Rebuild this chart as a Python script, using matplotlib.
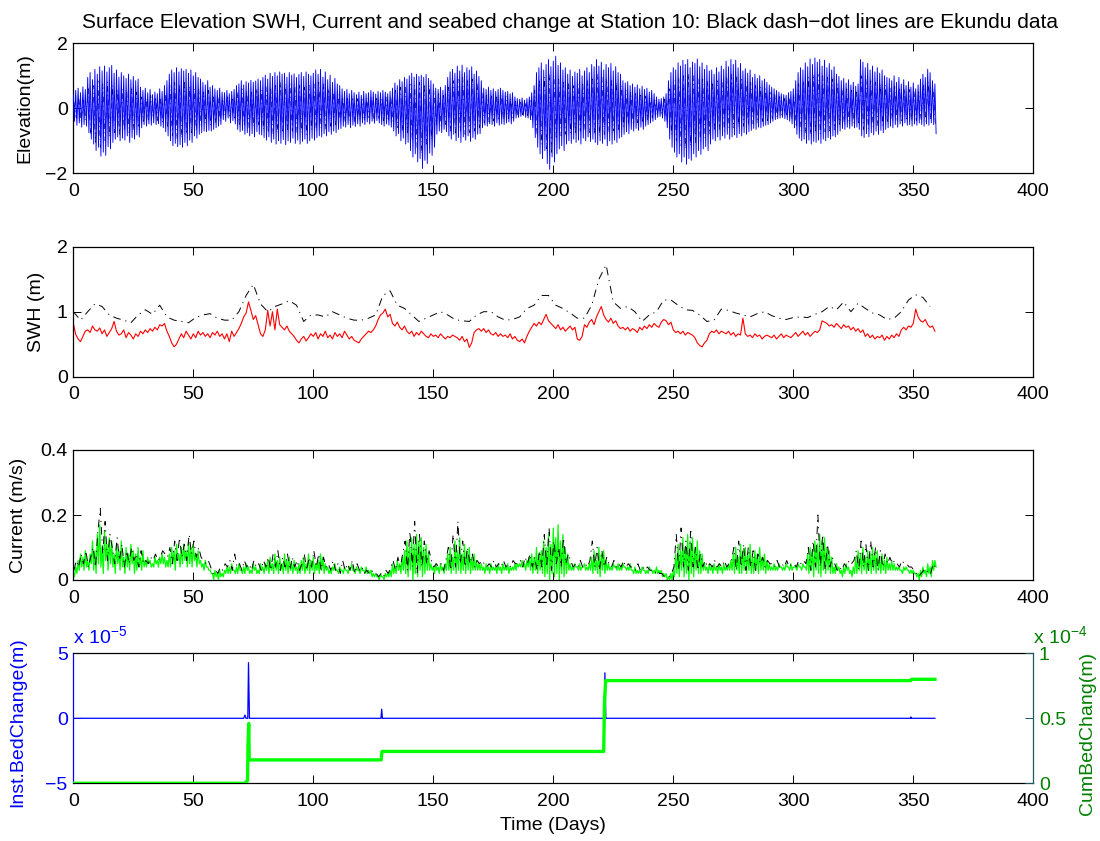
import numpy as np
import matplotlib
matplotlib.use("Agg")
import matplotlib.pyplot as plt

plt.rcParams['font.family'] = ['Liberation Sans', 'DejaVu Sans']
plt.rcParams['mathtext.fontset'] = 'custom'
plt.rcParams['mathtext.rm'] = 'Liberation Sans'
plt.rcParams['mathtext.it'] = 'Liberation Sans:italic'

# ---------------- data ----------------
# Model surface elevation: daily high and low water (cm)
ELEV_HIGH_CM = [
    40, 55, 62, 48, 66, 58,
    95, 110, 88, 120, 105, 128, 115, 130, 112, 125,
    132, 108, 118, 96, 110, 100, 92, 105, 88, 98, 85, 90,
    65, 55, 62, 48, 58, 42, 50, 45, 60, 52, 70, 85,
    105, 118, 110, 125, 112, 122, 115, 120, 108, 118, 100, 110, 95, 90,
    80, 72, 85, 65, 70, 60, 55, 62,
    50, 48, 55, 45, 52, 58,
    70, 75, 85, 72, 82, 78, 86, 80, 84, 90, 85,
    95, 102, 90, 108, 98, 110, 100, 112, 105, 108, 96, 110, 102, 106, 95, 104, 110, 98, 112, 105, 100, 108,
    118, 105, 120, 96, 112, 88, 102, 80, 92, 75, 70,
    60, 52, 58, 45, 55, 48, 42, 50, 40, 52, 45, 48, 55, 50, 44, 52, 48, 55, 50, 45, 52,
    62, 78, 70, 88, 82, 95, 90,
    100, 108, 96, 105, 98, 102, 95, 104, 92, 85, 75,
    62, 58, 65, 55, 70,
    95, 112, 120, 108, 130, 115, 133, 110, 125, 118, 128, 105, 115, 98,
    85, 62, 58, 65, 55, 60, 52, 58, 62, 55, 50, 52, 45, 48,
    35, 30, 28, 32, 25, 30, 35, 48, 70,
    110, 125, 140, 118, 135, 150, 128, 145, 160, 132, 140, 118, 125,
    105, 118, 98, 112, 108, 120, 100, 115, 125, 110, 135, 128,
    150, 130, 142, 118, 135, 125, 138, 115, 128, 110, 105,
    85, 78, 82, 70, 75, 65, 72, 60, 68, 58, 62, 50, 55, 45,
    35, 28, 30, 35, 45,
    85, 110, 125, 118, 140, 130, 148, 135, 150, 125, 142, 138, 152, 128, 140, 120, 132, 115,
    118, 105, 125, 112, 130, 120, 145, 128, 150, 135, 148, 125, 138, 115, 122, 108,
    118, 95, 105, 92, 100, 85, 90, 80,
    72, 65, 60, 55, 50, 45, 42, 40, 48, 52, 60,
    85, 110, 125, 118, 140, 128, 152, 135, 155, 142, 150, 130, 148, 125, 138, 118, 128, 105,
    98, 85, 92, 78, 88, 72, 80, 68, 75,
    150, 142, 125, 138, 118, 130, 112, 125, 108, 118, 100, 95,
    92, 85, 100, 80, 95, 75, 88, 70, 82, 65, 78, 60, 72, 90, 105, 95, 120, 110, 85, 75,
]
ELEV_LOW_CM = [
    40, 52, 45, 58, 50, 55,
    75, 95, 110, 130, 120, 147, 135, 145, 118, 125,
    105, 95, 88, 100, 92, 98, 85, 105, 90, 95, 82, 88,
    60, 50, 55, 48, 52, 45, 50, 48, 55, 60, 72, 85,
    100, 115, 108, 118, 112, 120, 105, 115, 98, 105, 85, 92, 80, 75,
    70, 72, 68, 70, 65, 60, 55, 50,
    35, 40, 30, 45, 38, 48,
    65, 72, 68, 80, 75, 85, 78, 88, 72, 80, 82,
    90, 98, 88, 105, 95, 110, 100, 108, 96, 112, 100, 105, 92, 108, 98, 110, 102, 95, 108, 100, 92, 98,
    90, 85, 88, 78, 85, 72, 80, 70, 75, 65, 62,
    55, 58, 50, 60, 52, 56, 48, 55, 45, 50, 42, 48, 40, 46, 38, 45, 50, 55, 48, 52, 58,
    70, 85, 78, 100, 92, 110, 105,
    130, 150, 140, 165, 155, 185, 160, 170, 138, 145, 120,
    80, 70, 75, 65, 72,
    85, 95, 80, 100, 90, 105, 88, 98, 85, 102, 90, 95, 80, 78,
    60, 52, 55, 48, 50, 55, 45, 52, 48, 50, 45, 42, 48, 40,
    30, 28, 25, 22, 28, 30, 35, 60, 90,
    120, 140, 155, 130, 170, 188, 150, 165, 140, 125, 115, 130, 110,
    100, 108, 95, 105, 98, 110, 92, 100, 88, 102, 95, 105,
    112, 100, 108, 95, 115, 100, 110, 98, 105, 92, 88,
    80, 72, 78, 65, 70, 62, 68, 58, 65, 55, 50, 45, 40, 35,
    28, 25, 30, 40, 60,
    95, 120, 135, 150, 140, 165, 150, 172, 155, 160, 140, 150, 130, 142, 125, 118, 130, 110,
    95, 100, 88, 98, 85, 92, 80, 95, 88, 82, 90, 78, 85, 75, 80, 72,
    68, 62, 65, 58, 60, 55, 52, 50,
    45, 40, 35, 32, 30, 28, 32, 35, 40, 48, 60,
    80, 92, 100, 95, 108, 98, 110, 102, 105, 98, 108, 95, 100, 90, 95, 85, 88, 80,
    70, 62, 65, 58, 62, 55, 60, 58, 65,
    85, 90, 78, 88, 75, 82, 70, 80, 68, 75, 65, 60,
    55, 60, 50, 58, 48, 55, 45, 52, 50, 55, 48, 52, 45, 50, 55, 48, 52, 45, 50, 78,
]
# Ekundu surface elevation (cm), one value per day
EKUNDU_ELEV_CM = [
    20, -30, 35, -40, 25, -35,
    60, -80, 70, -110, 85, -120, 75, -100, 80, -90,
    70, -75, 60, -80, 65, -70, 55, -75, 60, -65, 50, -60,
    35, -40, 30, -35, 40, -30, 35, -38, 30, -42, 45, -55,
    70, -85, 80, -95, 75, -90, 85, -80, 70, -75, 65, -70, 60, -55,
    50, -45, 55, -50, 40, -45, 35, -40,
    30, -25, 35, -30, 28, -35,
    50, -55, 60, -50, 55, -60, 50, -55, 60, -50, 55,
    -65, 70, -75, 65, -80, 70, -75, 80, -70, 75, -65, 80, -70, 75, -80, 70, -75, 65, -80, 70, -65, 75,
    -70, 80, -60, 75, -65, 60, -55, 50, -50, 45, -40,
    35, -40, 30, -38, 35, -42, 30, -35, 28, -38, 32, -30, 35, -40, 30, -35, 32, -38, 35, -40, 38,
    -45, 55, -60, 65, -70, 70, -80,
    75, -100, 70, -120, 80, -140, 75, -110, 70, -95, 55,
    -50, 45, -55, 40, -50,
    65, -70, 85, -75, 90, -70, 95, -80, 85, -75, 90, -70, 80, -60,
    50, -45, 40, -42, 38, -40, 35, -38, 40, -35, 38, -32, 30, -30,
    22, -20, 18, -20, 15, -22, 25, -40, 55,
    -85, 90, -110, 95, -125, 110, -140, 100, -95, 90, -85, 80, -80,
    75, -75, 70, -80, 75, -70, 80, -72, 85, -75, 90, -80,
    105, -85, 95, -80, 90, -75, 85, -70, 80, -65, 70,
    -55, 55, -50, 50, -48, 45, -45, 40, -40, 38, -35, 32, -30, 28,
    -20, 22, -22, 28, -40,
    60, -80, 85, -100, 95, -115, 100, -125, 105, -115, 100, -105, 95, -100, 90, -90, 85, -80,
    80, -70, 85, -65, 90, -70, 100, -65, 105, -60, 100, -58, 95, -55, 85, -52,
    80, -48, 70, -45, 65, -40, 60, -38,
    50, -32, 42, -28, 36, -25, 30, -25, 32, -35, 42,
    -58, 75, -70, 85, -78, 95, -80, 105, -75, 105, -78, 100, -72, 95, -70, 90, -65, 80,
    -55, 65, -50, 60, -45, 55, -45, 50, -50,
    100, -65, 90, -62, 85, -58, 80, -55, 75, -52, 70, -45,
    62, -40, 68, -42, 65, -38, 60, -38, 58, -40, 55, -38, 50, -36, 70, -40, 80, -35, 60, -55,
]

# Model significant wave height (cm), one value per day
SWH_MODEL_CM = [
    82, 65, 58, 54, 62, 70, 72, 68, 78, 72,
    70, 75, 66, 72, 62, 68, 74, 85, 70, 64,
    66, 72, 60, 68, 64, 58, 66, 62, 70, 66,
    72, 68, 74, 70, 76, 72, 80, 78, 82, 70,
    62, 52, 46, 50, 58, 66, 60, 70, 64, 58,
    66, 60, 70, 64, 68, 62, 66, 60, 68, 64,
    70, 62, 66, 58, 66, 54, 70, 62, 68, 74,
    82, 92, 98, 115, 102, 88, 94, 80, 66, 62,
    72, 102, 78, 100, 72, 104, 80, 76, 72, 78,
    70, 66, 62, 56, 52, 58, 62, 55, 60, 66,
    62, 68, 58, 66, 62, 70, 60, 64, 58, 68,
    62, 66, 60, 70, 64, 58, 62, 56, 54, 52,
    58, 62, 66, 70, 68, 72, 78, 88, 95, 98,
    104, 92, 96, 82, 78, 84, 76, 72, 78, 70,
    66, 70, 62, 68, 64, 70, 66, 62, 60, 66,
    62, 64, 60, 66, 62, 58, 62, 60, 64, 62,
    60, 56, 62, 54, 58, 45, 52, 68, 72, 74,
    70, 74, 68, 72, 66, 64, 68, 62, 66, 62,
    64, 60, 66, 58, 62, 56, 54, 58, 52, 62,
    70, 76, 82, 78, 84, 80, 88, 96, 86, 82,
    78, 74, 80, 72, 76, 70, 74, 78, 72, 76,
    58, 56, 62, 80, 76, 84, 88, 80, 92, 100,
    108, 95, 88, 84, 90, 82, 86, 78, 74, 76,
    72, 76, 70, 74, 72, 68, 76, 72, 78, 74,
    80, 76, 82, 78, 76, 84, 88, 86, 80, 84,
    72, 68, 70, 66, 70, 64, 68, 66, 64, 60,
    52, 48, 46, 52, 56, 66, 70, 68, 72, 66,
    70, 68, 66, 70, 64, 68, 62, 66, 64, 90,
    66, 62, 64, 60, 66, 62, 64, 58, 62, 64,
    62, 60, 64, 58, 62, 66, 60, 64, 62, 60,
    64, 68, 62, 66, 70, 64, 68, 62, 66, 70,
    68, 72, 86, 84, 82, 78, 80, 76, 82, 78,
    74, 80, 76, 78, 72, 76, 70, 74, 68, 72,
    62, 66, 60, 64, 58, 62, 60, 64, 56, 62,
    58, 64, 60, 66, 62, 72, 76, 72, 78, 76,
    82, 104, 92, 86, 84, 88, 80, 76, 78, 70,
]
# Ekundu significant wave height (cm), every 3 days
SWH_EKUNDU_CM = [
    100, 87, 100, 112, 108, 95, 90, 87, 83, 95,
    103, 96, 110, 92, 87, 85, 83, 91, 95, 97,
    90, 87, 87, 100, 125, 142, 112, 100, 108, 112,
    117, 110, 85, 95, 95, 92, 100, 95, 90, 87,
    87, 90, 95, 125, 132, 110, 105, 95, 85, 90,
    95, 100, 95, 88, 86, 85, 95, 100, 100, 92,
    87, 88, 92, 105, 110, 125, 125, 110, 105, 98,
    90, 90, 110, 150, 172, 115, 105, 108, 100, 85,
    95, 100, 118, 118, 110, 103, 102, 95, 85, 87,
    104, 102, 98, 95, 92, 97, 100, 94, 90, 88,
    91, 92, 91, 96, 100, 108, 103, 115, 100, 113,
    105, 98, 95, 88, 90, 100, 118, 126, 122, 108,
]

# Model depth-averaged current: daily peak and trough (cm/s)
CUR_HIGH_CMS = [
    2, 4, 6, 8, 7, 9, 6, 8,
    12, 9, 14, 17, 10, 15, 11, 13,
    12, 8, 11, 9, 12, 7, 10, 8, 11, 9, 8, 10, 7, 9,
    6, 7, 6, 5, 7, 6, 7, 8, 7, 6,
    8, 10, 9, 11, 8, 10, 11, 9, 12, 10, 11, 8, 9,
    6, 5, 6, 4, 3,
    2, 3, 2, 3, 2, 3, 4,
    4, 5, 3, 4, 5, 3, 4, 5, 4, 3, 5, 4, 3, 5, 4, 5,
    6, 7, 5, 8, 6, 7, 5, 8, 6, 7, 5, 6, 4, 5, 6,
    7, 5, 8, 6, 7, 5, 6, 8, 7, 5,
    4, 3, 4, 5, 3, 4, 3, 4, 3, 4, 5, 3, 4, 3, 4, 3, 4, 3, 3, 2,
    2, 1, 2, 1, 2, 2, 3,
    5, 4, 6, 5, 7,
    9, 12, 10, 13, 11, 14, 12, 13, 10, 11, 8,
    5, 4, 5, 4, 5, 4, 5,
    8, 10, 7, 12, 9, 13, 8, 11, 9, 10, 7, 8, 6, 5, 5,
    4, 5, 4, 5, 4, 4, 5, 4, 5, 4, 5, 4, 4, 5, 5,
    5, 6, 5, 6, 7, 8, 7, 10, 8, 9,
    12, 10, 14, 11, 16, 13, 17, 12, 14, 10, 8,
    5, 4, 5, 4, 5, 4, 5, 4, 5,
    7, 9, 6, 10, 8, 9, 6,
    5, 4, 5, 4, 5, 4, 5, 4, 4, 5,
    3, 4, 3, 3, 4, 3, 3, 4, 3, 3, 4, 3, 3, 2, 2,
    1, 2, 3,
    8, 11, 9, 13, 10, 14, 12, 13, 10, 12, 9, 8,
    5, 4, 5, 4, 5, 4, 5, 4, 5, 4, 5, 6,
    8, 10, 7, 11, 9, 10, 8, 11, 7, 9, 8, 10, 7, 8, 6, 5,
    4, 5, 4, 5, 4, 4, 5, 4, 5, 4, 4, 5, 4, 5, 4,
    8, 10, 9, 12, 11, 14, 12, 13, 10, 9, 7,
    4, 5, 4, 3, 4, 5, 4, 3, 4,
    7, 9, 8, 10, 7, 9, 8, 10, 8, 9, 7, 8, 6, 7, 5, 6, 5,
    4, 4, 3, 4, 4, 3, 3, 3, 2, 2,
    3, 4, 3, 5, 4, 6, 6,
]
CUR_LOW_CMS = [
    1, 2, 3, 4, 3, 4, 3, 5,
    3, 2, 5, 4, 2, 6, 3, 5,
    4, 2, 5, 3, 4, 2, 4, 3, 5, 2, 3, 4, 3, 4,
    4, 5, 4, 4, 5, 4, 5, 5, 4, 4,
    4, 5, 3, 6, 4, 5, 6, 4, 5, 4, 6, 4, 5,
    4, 3, 4, 3, 2,
    0, 1, 0, 1, 1, 2, 2,
    2, 3, 2, 2, 3, 2, 2, 3, 2, 2, 3, 2, 2, 3, 2, 3,
    2, 3, 2, 3, 2, 3, 2, 3, 2, 3, 2, 3, 2, 2, 3,
    2, 3, 2, 3, 2, 3, 2, 3, 2, 3,
    2, 2, 3, 3, 2, 3, 2, 3, 2, 3, 3, 2, 3, 2, 3, 2, 2, 2, 1, 1,
    1, 0, 1, 0, 1, 1, 1,
    2, 2, 3, 2, 3,
    2, 1, 3, 0, 2, 1, 3, 1, 2, 3, 3,
    3, 2, 3, 2, 3, 2, 3,
    3, 2, 3, 2, 3, 2, 3, 2, 3, 2, 3, 3, 3, 3, 3,
    2, 3, 2, 3, 3, 2, 3, 2, 3, 3, 2, 3, 3, 3, 4,
    4, 4, 3, 4, 3, 2, 3, 2, 3, 2,
    1, 2, 0, 2, 1, 2, 0, 2, 1, 2, 3,
    3, 3, 4, 3, 3, 4, 3, 3, 3,
    2, 3, 2, 1, 3, 2, 3,
    3, 3, 4, 3, 3, 3, 4, 3, 3, 3,
    2, 2, 2, 2, 3, 2, 2, 3, 2, 2, 2, 2, 1, 1, 0,
    0, 0, 1,
    2, 1, 3, 1, 2, 0, 2, 1, 3, 2, 2, 3,
    3, 2, 3, 2, 3, 2, 3, 2, 3, 3, 3, 3,
    2, 3, 2, 2, 3, 2, 3, 2, 2, 3, 2, 3, 3, 2, 3, 3,
    3, 3, 3, 4, 3, 3, 4, 3, 3, 4, 3, 4, 3, 4, 3,
    2, 3, 1, 3, 2, 1, 3, 2, 3, 2, 2,
    2, 3, 2, 1, 2, 3, 2, 1, 2,
    2, 3, 2, 3, 2, 3, 2, 3, 2, 3, 2, 3, 2, 3, 3, 3, 3,
    3, 3, 2, 3, 3, 2, 2, 2, 1, 0,
    1, 2, 1, 2, 1, 3, 4,
]
# Ekundu current (cm/s), one value per day
CUR_EKUNDU_CMS = [
    3, 6, 4, 8, 5, 9, 4, 7,
    10, 4, 15, 22, 8, 18, 6, 14,
    10, 5, 13, 6, 11, 4, 9, 5, 10, 6, 8, 4, 9, 5,
    6, 5, 7, 6, 8, 6, 7, 9, 8, 7,
    10, 5, 12, 6, 13, 7, 11, 6, 14, 8, 12, 7, 10,
    7, 6, 5, 6, 4,
    2, 3, 2, 4, 3, 5, 4,
    6, 3, 8, 4, 5, 3, 6, 4, 5, 3, 6, 4, 5, 3, 6, 4,
    7, 3, 8, 4, 9, 3, 7, 4, 8, 3, 7, 4, 6, 3, 5,
    8, 3, 7, 4, 9, 4, 8, 3, 7, 4,
    5, 3, 6, 3, 5, 2, 6, 3, 5, 3, 6, 2, 5, 3, 4, 2, 3, 2, 3, 2,
    2, 1, 2, 1, 3, 2, 4,
    6, 3, 7, 4, 8,
    12, 3, 15, 4, 18, 2, 14, 4, 12, 5, 9,
    6, 4, 5, 4, 5, 3, 6,
    10, 3, 14, 4, 18, 5, 12, 4, 10, 5, 8, 4, 6, 5, 6,
    5, 4, 5, 4, 6, 4, 5, 4, 6, 4, 5, 4, 6, 5, 5,
    6, 4, 7, 5, 8, 4, 7, 3, 9, 4,
    14, 4, 16, 3, 12, 5, 10, 4, 13, 5, 8,
    6, 4, 5, 4, 6, 4, 5, 4, 6,
    12, 4, 10, 3, 9, 4, 7,
    5, 4, 6, 4, 5, 4, 6, 4, 5, 4,
    4, 3, 5, 3, 4, 3, 4, 3, 3, 2, 3, 2, 2, 1, 1,
    1, 2, 4,
    14, 3, 16, 4, 12, 3, 15, 4, 10, 3, 8, 4,
    6, 4, 5, 4, 6, 4, 5, 4, 6, 4, 5, 6,
    10, 3, 12, 4, 11, 3, 10, 4, 9, 3, 8, 5, 7, 4, 6, 5,
    5, 4, 6, 4, 5, 4, 6, 4, 5, 5, 4, 6, 5, 6, 5,
    10, 3, 12, 4, 20, 4, 14, 3, 11, 4, 7,
    5, 3, 4, 3, 5, 4, 6, 5, 6,
    9, 3, 12, 4, 11, 3, 12, 4, 10, 3, 9, 4, 8, 5, 7, 5, 6,
    5, 4, 6, 5, 5, 4, 4, 3, 2, 1,
    2, 3, 2, 3, 2, 5, 4,
]

# Instantaneous bed change (m) and cumulative bed change (m)
INST_DAY = [0, 71.0, 71.5, 72.0, 72.7, 73.0, 73.4, 128.2, 128.5, 128.8,
            221.2, 221.5, 221.9, 348.8, 349.0, 349.2, 359.0]
INST_BED = [0, 0, 0.25e-5, 0, 0, 4.28e-5, 0, 0, 0.7e-5, 0,
            0, 3.5e-5, 0, 0, 0.1e-5, 0, 0]
CUM_DAY = [0, 71.6, 72.0, 72.6, 72.8, 73.1, 73.3, 128.3, 128.6,
           221.0, 221.3, 221.8, 348.8, 349.2, 359.0]
CUM_BED = [0, 0, 0.01e-4, 0.02e-4, 0.30e-4, 0.46e-4, 0.18e-4, 0.18e-4, 0.245e-4,
           0.245e-4, 0.60e-4, 0.79e-4, 0.79e-4, 0.80e-4, 0.80e-4]

X_TICKS = [0, 50, 100, 150, 200, 250, 300, 350, 400]


def zigzag(high, low):
    """Interleave daily highs (at day d) and lows (at day d + 0.5)."""
    n = min(len(high), len(low))
    t = np.empty(2 * n)
    v = np.empty(2 * n)
    t[0::2] = np.arange(n)
    t[1::2] = np.arange(n) + 0.5
    v[0::2] = high[:n]
    v[1::2] = low[:n]
    return t, v


# ---------------- figure ----------------
fig = plt.figure(figsize=(11, 8.41), dpi=100)
W, H = 1100.0, 841.0
AX_L, AX_W, AX_H = 73.3, 960.0, 130.0
left = AX_L / W
width = AX_W / W
height = AX_H / H
tops = [43.3, 246.7, 450.0, 653.3]

TICK_FS = 14
LABEL_FS = 14
DASHDOT = (0, (8, 5, 1.2, 5))


def px_x(px):
    """Horizontal pixel position -> axes fraction."""
    return (px - AX_L) / AX_W


def style(ax, ylim, yticks, yticklabels):
    ax.set_xlim(0, 400)
    ax.set_xticks(X_TICKS)
    ax.set_xticklabels([str(x) for x in X_TICKS])
    ax.set_ylim(*ylim)
    ax.set_yticks(yticks)
    ax.set_yticklabels(yticklabels)
    ax.tick_params(direction='in', top=True, right=True, length=6, width=0.7,
                   labelsize=TICK_FS, pad=4)
    ax.tick_params(axis='x', pad=7)
    for s in ax.spines.values():
        s.set_linewidth(0.9)


axes = []
for tp in tops:
    b = 1 - (tp + AX_H) / H
    axes.append(fig.add_axes([left, b, width, height]))
ax1, ax2, ax3, ax4 = axes

# Panel 1: surface elevation
t_e, v_e = zigzag(np.array(ELEV_HIGH_CM) / 100.0, -np.array(ELEV_LOW_CM) / 100.0)
ek_e = np.array(EKUNDU_ELEV_CM) / 100.0
ax1.plot(np.arange(len(ek_e)) + 0.25, ek_e, color='k', lw=0.5, linestyle=DASHDOT, zorder=2)
ax1.plot(t_e, v_e, color='#0000ff', lw=0.65, zorder=3)
style(ax1, (-2, 2), [-2, 0, 2], ['\u22122', '0', '2'])
ax1.set_ylabel('Elevation(m)', fontsize=LABEL_FS)
ax1.yaxis.set_label_coords(px_x(33), 0.5)
ax1.set_title('Surface Elevation SWH, Current and seabed change at Station 10: '
              'Black dash\u2212dot lines are Ekundu data', fontsize=15, pad=11,
              x=px_x(569.5))

# Panel 2: significant wave height
swh = np.array(SWH_MODEL_CM) / 100.0
ax2.plot(np.arange(len(swh)), swh, color='#ff0000', lw=0.8, zorder=2)
swh_ek = np.array(SWH_EKUNDU_CM) / 100.0
ax2.plot(np.arange(len(swh_ek)) * 3, swh_ek, color='k', lw=0.7, linestyle=DASHDOT, zorder=3)
style(ax2, (0, 2), [0, 1, 2], ['0', '1', '2'])
ax2.set_ylabel('SWH (m)', fontsize=LABEL_FS)
ax2.yaxis.set_label_coords(px_x(45), 0.5)

# Panel 3: current
t_c, v_c = zigzag(np.array(CUR_HIGH_CMS) / 100.0, np.array(CUR_LOW_CMS) / 100.0)
ax3.plot(t_c, v_c, color='#00ff00', lw=0.9, zorder=2)
cur_ek = np.array(CUR_EKUNDU_CMS) / 100.0
ax3.plot(np.arange(len(cur_ek)) + 0.25, cur_ek, color='k', lw=0.7, linestyle=DASHDOT, zorder=3)
style(ax3, (0, 0.4), [0, 0.2, 0.4], ['0', '0.2', '0.4'])
ax3.set_ylabel('Current (m/s)', fontsize=LABEL_FS)
ax3.yaxis.set_label_coords(px_x(27), 0.5)

# Panel 4: bed change with two y axes
ax4.plot(INST_DAY, INST_BED, color='#0000ff', lw=0.9)
style(ax4, (-5e-5, 5e-5), [-5e-5, 0, 5e-5], ['\u22125', '0', '5'])
ax4.tick_params(right=False, axis='y', colors='#0000ff')
ax4.tick_params(axis='x', colors='k')
ax4.spines['left'].set_color('#0000ff')
ax4.spines['right'].set_visible(False)
ax4.set_ylabel('Inst.BedChange(m)', fontsize=LABEL_FS, color='#0000ff')
ax4.yaxis.set_label_coords(px_x(26), 0.47)
ax4.set_xlabel('Time (Days)', fontsize=LABEL_FS, labelpad=5)
ax4.text(0.0, 1.079, r'x 10$^{\mathregular{-5}}$', transform=ax4.transAxes,
         color='#0000ff', fontsize=TICK_FS, ha='left', va='baseline')

ax4r = ax4.twinx()
ax4r.set_position([left, 1 - (653.3 + AX_H) / H, width, height])
ax4r.plot(CUM_DAY, CUM_BED, color='#00ff00', lw=2.4)
ax4r.set_ylim(0, 1e-4)
ax4r.set_yticks([0, 0.5e-4, 1e-4])
ax4r.set_yticklabels(['0', '0.5', '1'])
ax4r.tick_params(axis='y', direction='in', length=6, width=0.7, labelsize=TICK_FS,
                 color='#1a5a66', labelcolor='#008000', pad=4)
for s in ax4r.spines.values():
    s.set_visible(False)
ax4r.spines['right'].set_visible(True)
ax4r.spines['right'].set_color('#1a5a66')
ax4r.spines['right'].set_linewidth(0.9)
ax4r.set_ylabel('CumBedChang(m)', fontsize=LABEL_FS, color='#008000')
ax4r.yaxis.set_label_coords(px_x(1079), 0.385)
ax4r.text(1.0, 1.079, r'x 10$^{\mathregular{-4}}$', transform=ax4r.transAxes,
          color='#008000', fontsize=TICK_FS, ha='left', va='baseline')

fig.savefig('out.png', dpi=100)
